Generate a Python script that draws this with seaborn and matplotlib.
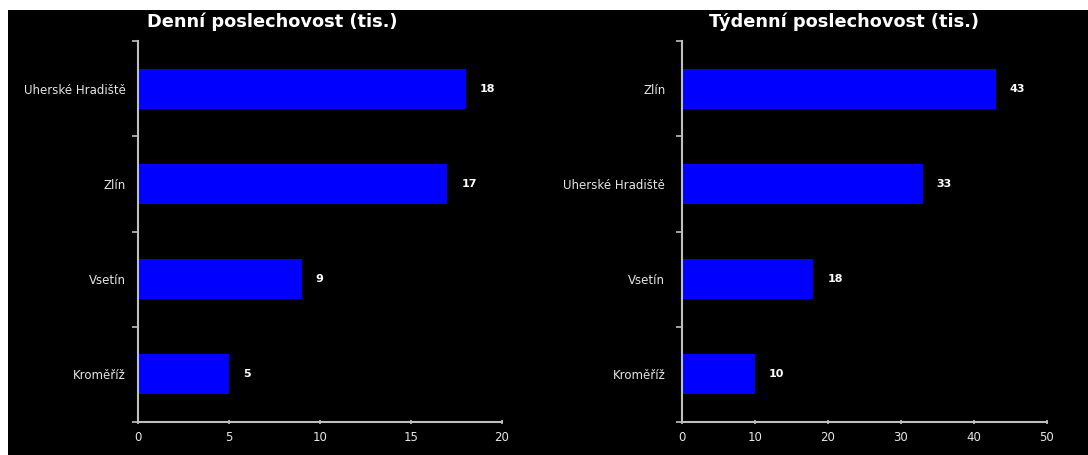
import matplotlib
matplotlib.use("Agg")
import matplotlib.pyplot as plt
from matplotlib.patches import Rectangle
import seaborn as sns
import pandas as pd

# Daily listenership (thousands)
daily_regions = ["Uherské Hradiště", "Zlín", "Vsetín", "Kroměříž"]
daily_values = [18, 17, 9, 5]
daily_ticks = [0, 5, 10, 15, 20]

# Weekly listenership (thousands)
weekly_regions = ["Zlín", "Uherské Hradiště", "Vsetín", "Kroměříž"]
weekly_values = [43, 33, 18, 10]
weekly_ticks = [0, 10, 20, 30, 40, 50]

titles = ["Denní poslechovost (tis.)", "Týdenní poslechovost (tis.)"]

sns.set_theme(style="white")
plt.rcParams["font.family"] = ["DejaVu Sans"]

W, H, DPI = 1088, 455, 100
fig = plt.figure(figsize=(W / DPI, H / DPI), dpi=DPI, facecolor="white")
# black canvas, leaving a thin white margin on the top and left
fig.patches.append(Rectangle((8 / W, 0), 1 - 8 / W, 1 - 10 / H,
                             transform=fig.transFigure, facecolor="black",
                             edgecolor="none", zorder=-10))

AXIS_COLOR = "#bfbfbf"
TEXT_COLOR = "#e6e6e6"
BAR_COLOR = "#0000ff"

panels = [
    (daily_regions, daily_values, daily_ticks, [138, 502], 272, 9),
    (weekly_regions, weekly_values, weekly_ticks, [682, 1047], 844, 12),
]
ybot, ytop = 422, 41

for (regions, values, ticks, (x0, x1), tx, ypad), title in zip(panels, titles):
    ax = fig.add_axes([x0 / W, 1 - ybot / H, (x1 - x0) / W, (ybot - ytop) / H])
    ax.set_zorder(5)
    ax.set_facecolor("none")
    df = pd.DataFrame({"region": regions, "value": values})
    sns.barplot(data=df, x="value", y="region", orient="h", color=BAR_COLOR,
                saturation=1, width=0.42, ax=ax, edgecolor="none")
    ax.set_xlim(ticks[0], ticks[-1])
    ax.set_ylim(len(regions) - 0.5, -0.5)
    ax.set_xticks(ticks)
    ax.set_xlabel("")
    ax.set_ylabel("")
    for side in ("top", "right"):
        ax.spines[side].set_visible(False)
    for side in ("left", "bottom"):
        ax.spines[side].set_color(AXIS_COLOR)
        ax.spines[side].set_linewidth(1.5)
    ax.tick_params(axis="x", colors=AXIS_COLOR, labelcolor=TEXT_COLOR,
                   labelsize=8.5, length=3, width=1.2, direction="inout", pad=5,
                   bottom=True)
    ax.tick_params(axis="y", which="major", length=0, labelcolor=TEXT_COLOR,
                   labelsize=8.5, pad=ypad)
    ax.set_yticks([i - 0.5 for i in range(len(regions) + 1)], minor=True)
    ax.tick_params(axis="y", which="minor", colors=AXIS_COLOR, length=4,
                   width=1.2, direction="out", left=True)
    for i, v in enumerate(values):
        ax.text(v + (ticks[-1] - ticks[0]) * 0.038, i, f"{v}",
                color="white", fontsize=8, fontweight="bold",
                va="center", ha="left")
    fig.text(tx / W, 1 - 22 / H, title, color="white", fontsize=12.8,
             fontweight="bold", ha="center", va="center", zorder=6)

fig.savefig("out.png", dpi=DPI, facecolor=fig.get_facecolor())
